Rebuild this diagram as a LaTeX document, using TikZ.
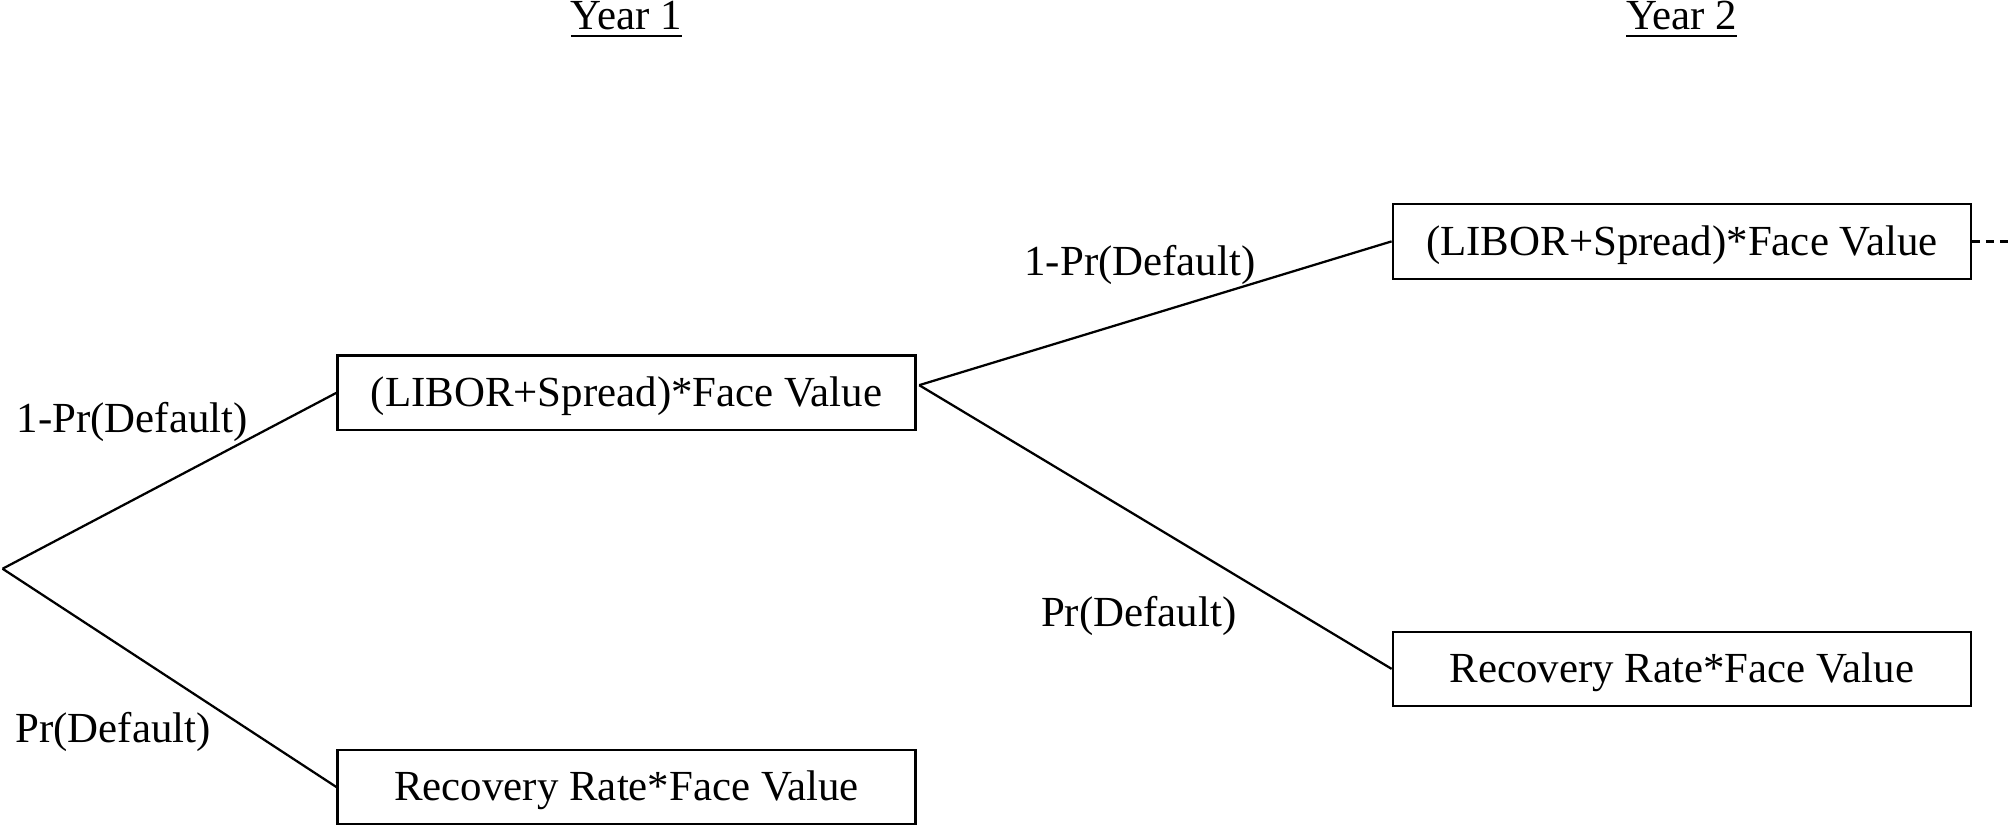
\documentclass[tikz,border=0pt]{standalone}
\usepackage{fontspec}
\setmainfont{Liberation Serif}
\usetikzlibrary{calc}

\begin{document}
\begin{tikzpicture}[x=0.01cm,y=-0.01cm,line width=0.5pt,
  every node/.style={font=\fontsize{9.5}{11}\selectfont},
  valbox/.style={draw, minimum width=4.5cm, minimum height=0.58cm, inner sep=0pt,
    text height=8.2pt, text depth=2.1pt}]
\useasboundingbox (0,0) rectangle (1568,644);
\node[anchor=base] (y1) at (488,23){\underline{Year 1}};
\node[anchor=base] (y2) at (1310,23){\underline{Year 2}};
\coordinate (root) at (2,443);
\node[valbox] (up1) at (488,306){(LIBOR+Spread)*Face Value};
\node[valbox] (dn1) at (488,613){Recovery Rate*Face Value};
\node[valbox] (up2) at (1310,188){(LIBOR+Spread)*Face Value};
\node[valbox] (dn2) at (1310,521){Recovery Rate*Face Value};
\coordinate (split) at (716,300);
\coordinate (more) at (1568,188);
\draw (root) -- (up1.west);
\draw (root) -- (dn1.west);
\draw (split) -- (up2.west);
\draw (split) -- (dn2.west);
\draw[dash pattern=on 1.8pt off 1.3pt] (up2.east) -- (more);
\node (p1) at (103,329){1-Pr(Default)};
\node (q1) at (88,570){Pr(Default)};
\node (p2) at (888,206){1-Pr(Default)};
\node (q2) at (887,480){Pr(Default)};
\end{tikzpicture}
\end{document}
